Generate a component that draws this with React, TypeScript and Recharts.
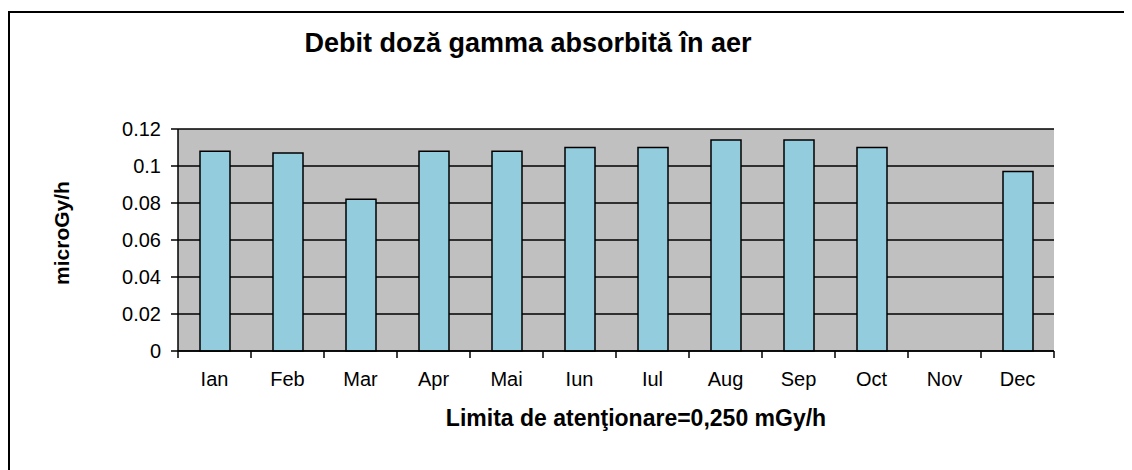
import { BarChart, Bar, XAxis, YAxis, CartesianGrid } from 'recharts';

const months = ['Ian', 'Feb', 'Mar', 'Apr', 'Mai', 'Iun', 'Iul', 'Aug', 'Sep', 'Oct', 'Nov', 'Dec'];
const doseRate = [0.108, 0.107, 0.082, 0.108, 0.108, 0.11, 0.11, 0.114, 0.114, 0.11, null, 0.097];
const yTicks = [0, 0.02, 0.04, 0.06, 0.08, 0.1, 0.12];

const data = months.map((month, i) => ({ month, value: doseRate[i] }));

const FONT = '"Liberation Sans", Arial, sans-serif';

function MonthTick(props: any) {
  const { x, y, payload, index } = props;
  const off = payload && payload.offset ? payload.offset : 36.5;
  return (
    <g>
      <line x1={x + off} y1={y} x2={x + off} y2={y + 7} stroke="#000" strokeWidth={1.5} />
      {index === 0 && (
        <line x1={x - off} y1={y} x2={x - off} y2={y + 7} stroke="#000" strokeWidth={1.5} />
      )}
      <text x={x} y={y + 35} textAnchor="middle" fontSize={20} fontFamily={FONT} fill="#000">
        {payload.value}
      </text>
    </g>
  );
}

export default function App() {
  return (
    <div style={{ position: 'relative', width: 1124, height: 462, overflow: 'hidden', fontFamily: FONT }}>
      <div
        style={{
          position: 'absolute',
          left: 0,
          top: 3,
          width: 1200,
          height: 600,
          borderTop: '2px solid #000',
          borderLeft: '2px solid #000',
        }}
      />
      <div style={{ position: 'absolute', left: 0, top: 0 }}>
        <BarChart
          width={1124}
          height={462}
          data={data}
          margin={{ top: 121, right: 78, left: 110, bottom: 69 }}
        >
          <CartesianGrid vertical={false} stroke="#000" strokeWidth={1.5} fill="#c0c0c0" fillOpacity={1} />
          <XAxis
            dataKey="month"
            height={50}
            tickSize={0}
            tickMargin={0}
            tickLine={false}
            axisLine={{ stroke: '#000', strokeWidth: 1.5 }}
            tick={<MonthTick />}
            interval={0}
          />
          <XAxis
            xAxisId="top"
            orientation="top"
            dataKey="month"
            height={0}
            tick={false}
            tickLine={false}
            axisLine={{ stroke: '#808080', strokeWidth: 1.5 }}
          />
          <YAxis
            width={60}
            domain={[0, 0.12]}
            ticks={yTicks}
            tickSize={7}
            tickMargin={10}
            tickLine={{ stroke: '#000', strokeWidth: 1.5 }}
            axisLine={{ stroke: '#000', strokeWidth: 1.5 }}
            tick={{ fill: '#000', fontSize: 20, fontFamily: FONT }}
            interval={0}
          />
          <YAxis
            yAxisId="right"
            orientation="right"
            width={0}
            domain={[0, 0.12]}
            tick={false}
            tickLine={false}
            axisLine={{ stroke: '#808080', strokeWidth: 1.5 }}
          />
          <Bar
            dataKey="value"
            fill="#93cddd"
            stroke="#000"
            strokeWidth={1.5}
            barSize={30}
            isAnimationActive={false}
          />
        </BarChart>
      </div>
      <svg
        width={1124}
        height={462}
        style={{ position: 'absolute', left: 0, top: 0, pointerEvents: 'none' }}
      >
        <text x={520} y={44} textAnchor="middle" fontSize={27} fontWeight="bold" fontFamily={FONT} fill="#000">
          Debit doză gamma absorbită în aer
        </text>
        <text x={628} y={418} textAnchor="middle" fontSize={23} fontWeight="bold" fontFamily={FONT} fill="#000">
          Limita de atenţionare=0,250 mGy/h
        </text>
        <text
          x={0}
          y={0}
          transform="translate(61 225) rotate(-90)"
          textAnchor="middle"
          fontSize={21}
          fontWeight="bold"
          fontFamily={FONT}
          fill="#000"
        >
          microGy/h
        </text>
      </svg>
    </div>
  );
}
